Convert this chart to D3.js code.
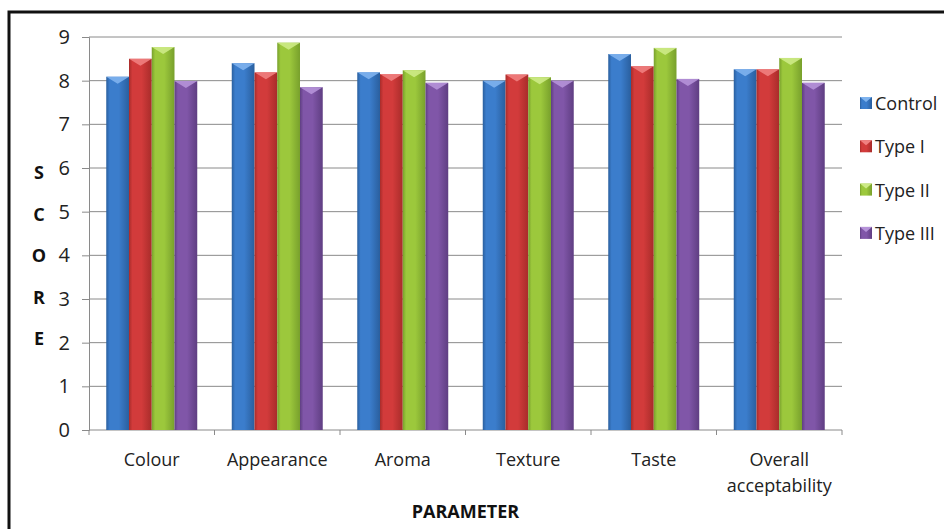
<!DOCTYPE html>
<html>
<head>
<meta charset="utf-8">
<script src="https://cdn.jsdelivr.net/npm/d3@7"></script>
<style>
  body { margin: 0; background: #fff; }
  svg { display: block; }
</style>
</head>
<body>
<div id="chart"></div>
<script>
// Chart data
const categories = ["Colour", "Appearance", "Aroma", "Texture", "Taste", "Overall acceptability"];
const seriesNames = ["Control", "Type I", "Type II", "Type III"];
const control = [8.09, 8.4, 8.19, 8.0, 8.61, 8.26];
const type1 = [8.5, 8.19, 8.15, 8.14, 8.33, 8.26];
const type2 = [8.77, 8.87, 8.24, 8.08, 8.75, 8.52];
const type3 = [7.99, 7.85, 7.95, 8.0, 8.04, 7.95];
const yTicks = [0, 1, 2, 3, 4, 5, 6, 7, 8, 9];

const seriesValues = [control, type1, type2, type3];
const colors = ["#3b7dcc", "#d23b3b", "#9cc83c", "#8056a8"];
const darks = ["#2a5f9e", "#a82c2a", "#78a02c", "#5f3e82"];
const lights = ["#7fb3ee", "#f08080", "#cdea86", "#b592d8"];

const W = 944, H = 529;
const margin = { top: 37, right: 102, bottom: 99, left: 89 };
const width = W - margin.left - margin.right;
const height = H - margin.top - margin.bottom;
const font = "'Open Sans', Lato, sans-serif";

const svgRoot = d3.select("#chart").append("svg")
  .attr("width", W).attr("height", H);

// gradients for the bevelled bars
const defs = svgRoot.append("defs");
colors.forEach((c, i) => {
  const g = defs.append("linearGradient").attr("id", "grad" + i)
    .attr("x1", "0%").attr("x2", "100%").attr("y1", "0%").attr("y2", "0%");
  g.append("stop").attr("offset", "0%").attr("stop-color", darks[i]);
  g.append("stop").attr("offset", "15%").attr("stop-color", c);
  g.append("stop").attr("offset", "55%").attr("stop-color", c);
  g.append("stop").attr("offset", "100%").attr("stop-color", darks[i]);
});

// outer frame (top and left only visible)
svgRoot.append("path")
  .attr("d", `M9,${H + 5} L9,12 L${W + 5},12`)
  .attr("fill", "none").attr("stroke", "#111").attr("stroke-width", 3);

const svg = svgRoot.append("g")
  .attr("transform", `translate(${margin.left},${margin.top})`);

const x0 = d3.scaleBand().domain(categories).range([0, width])
  .paddingInner(0.275).paddingOuter(0.1375);
const x1 = d3.scaleBand().domain(seriesNames).range([0, x0.bandwidth()]);
const y = d3.scaleLinear().domain([0, 9]).range([height, 0]);

// gridlines
svg.append("g").selectAll("line").data(yTicks.filter(d => d > 0)).join("line")
  .attr("x1", 0).attr("x2", width)
  .attr("y1", d => y(d)).attr("y2", d => y(d))
  .attr("stroke", "#8a8a8a").attr("stroke-width", 1);

// y axis
const yAxis = svg.append("g")
  .call(d3.axisLeft(y).tickValues(yTicks).tickSize(7).tickPadding(12).tickFormat(d3.format("d")));
yAxis.select(".domain").attr("stroke", "#8a8a8a");
yAxis.selectAll(".tick line").attr("stroke", "#8a8a8a");
yAxis.selectAll("text").attr("font-family", font).attr("font-size", 20).attr("fill", "#222");

// x axis with ticks at category boundaries
const bounds = d3.range(categories.length + 1).map(i => i * x0.step());
svg.append("line").attr("x1", 0).attr("x2", width)
  .attr("y1", height).attr("y2", height).attr("stroke", "#8a8a8a");
svg.append("g").selectAll("line").data(bounds).join("line")
  .attr("x1", d => d).attr("x2", d => d)
  .attr("y1", height).attr("y2", height + 5)
  .attr("stroke", "#8a8a8a");

// bars
const groups = svg.append("g").selectAll("g").data(categories).join("g")
  .attr("transform", d => `translate(${x0(d)},0)`);

groups.each(function (cat, ci) {
  const g = d3.select(this);
  seriesNames.forEach((s, si) => {
    const v = seriesValues[si][ci];
    const bx = x1(s), bw = x1.bandwidth();
    g.append("rect")
      .attr("x", bx).attr("y", y(v))
      .attr("width", bw).attr("height", height - y(v))
      .attr("fill", `url(#grad${si})`);
    // bevel cap
    g.append("path")
      .attr("d", `M${bx},${y(v)} L${bx + bw},${y(v)} L${bx + bw / 2},${y(v) + 7} Z`)
      .attr("fill", lights[si]).attr("opacity", 0.9);
  });
});

// category labels
const labels = svg.append("g").selectAll("text").data(categories).join("text")
  .attr("x", d => x0(d) + x0.bandwidth() / 2)
  .attr("y", height + 36)
  .attr("text-anchor", "middle")
  .attr("font-family", font).attr("font-size", 18).attr("fill", "#222");
labels.each(function (d) {
  const t = d3.select(this);
  if (d === "Overall acceptability") {
    t.append("tspan").attr("x", t.attr("x")).attr("dy", 0).text("Overall");
    t.append("tspan").attr("x", t.attr("x")).attr("dy", 26).text("acceptability");
  } else {
    t.text(d);
  }
});

// x title
svgRoot.append("text")
  .attr("x", margin.left + width / 2).attr("y", 518)
  .attr("text-anchor", "middle")
  .attr("font-family", font).attr("font-weight", "bold").attr("font-size", 18)
  .attr("fill", "#111").text("PARAMETER");

// y title as stacked letters
svgRoot.append("g").selectAll("text").data("SCORE".split("")).join("text")
  .attr("x", 39).attr("y", (d, i) => 179 + i * 41.5)
  .attr("text-anchor", "middle")
  .attr("font-family", font).attr("font-weight", "bold").attr("font-size", 18)
  .attr("fill", "#111").text(d => d);

// legend
const legend = svgRoot.append("g").attr("transform", "translate(860,103)");
seriesNames.forEach((s, i) => {
  const row = legend.append("g").attr("transform", `translate(0,${i * 43.3})`);
  row.append("rect").attr("x", 0).attr("y", -6).attr("width", 12).attr("height", 12)
    .attr("fill", `url(#grad${i})`);
  row.append("path").attr("d", "M0,-6 L12,-6 L6,-1 Z").attr("fill", lights[i]);
  row.append("text").attr("x", 15).attr("y", 7)
    .attr("font-family", font).attr("font-size", 18).attr("fill", "#222").text(s);
});
</script>
</body>
</html>
